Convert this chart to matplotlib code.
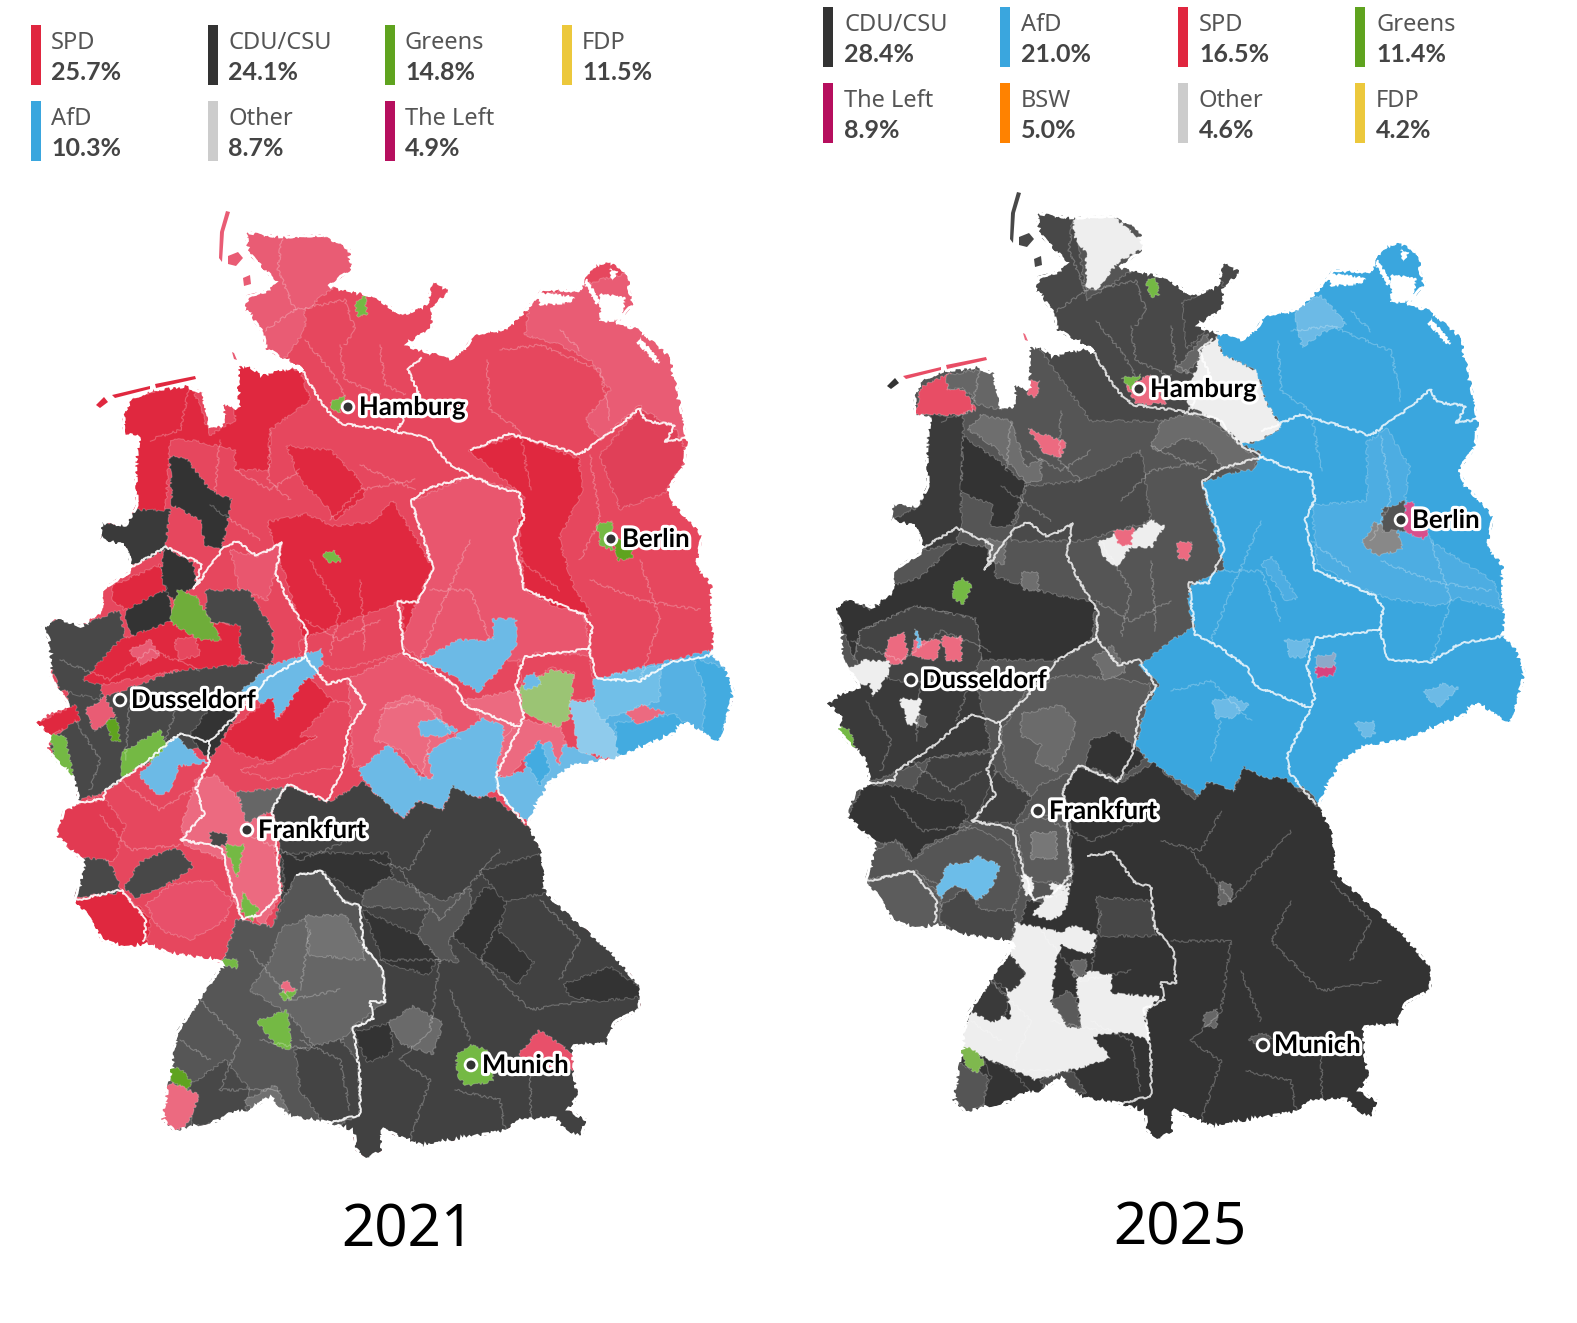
import numpy as np
import matplotlib
matplotlib.use('Agg')
import matplotlib.pyplot as plt
import matplotlib.patheffects as pe
from matplotlib.patches import Polygon, Rectangle

plt.rcParams['font.family'] = ['Noto Sans', 'DejaVu Sans']

# legend values
parties_2021 = ['SPD', 'CDU/CSU', 'Greens', 'FDP', 'AfD', 'Other', 'The Left']
shares_2021 = ['25.7%', '24.1%', '14.8%', '11.5%', '10.3%', '8.7%', '4.9%']
parties_2025 = ['CDU/CSU', 'AfD', 'SPD', 'Greens', 'The Left', 'BSW', 'Other', 'FDP']
shares_2025 = ['28.4%', '21.0%', '16.5%', '11.4%', '8.9%', '5.0%', '4.6%', '4.2%']
party_colors = {'SPD': '#e0263f', 'CDU/CSU': '#333333', 'Greens': '#5fa31f', 'FDP': '#ecc83c',
                'AfD': '#3aa6de', 'Other': '#cccccc', 'The Left': '#b60f5e', 'BSW': '#ff8200'}

# cities: name, dot in the 2021 picture, dot in the 2025 picture
cities = ['Hamburg', 'Berlin', 'Dusseldorf', 'Frankfurt', 'Munich']
dots_2021 = [(348, 407), (611, 539), (120, 700), (247, 830), (471, 1065)]
dots_2025 = [(1139, 389), (1401, 520), (911, 680), (1038, 811), (1263, 1045)]

# map shapes (pixels of the 2021 map)
germany = [(245, 231), (282, 236), (322, 234), (350, 248), (353, 269), (330, 286), (353, 290), (373, 295), (403, 314),
           (426, 303), (428, 295), (433, 280), (450, 290), (443, 299), (433, 307), (433, 328), (408, 345), (421, 349),
           (453, 358), (466, 345), (474, 333), (504, 328), (524, 311), (542, 288), (579, 290), (587, 274), (597, 263),
           (612, 261), (630, 274), (630, 290), (635, 303), (617, 324), (640, 328), (673, 358), (673, 368), (678, 387),
           (688, 442), (685, 467), (668, 490), (680, 509), (703, 535), (698, 564), (713, 585), (713, 619), (715, 644),
           (713, 653), (725, 666), (735, 692), (720, 745), (703, 734), (685, 723), (675, 734), (615, 760), (574, 766),
           (549, 784), (529, 823), (542, 853), (547, 893), (579, 923), (610, 949), (625, 967), (642, 988), (640, 1010),
           (615, 1023), (607, 1045), (574, 1047), (574, 1070), (579, 1097), (569, 1110), (587, 1119), (582, 1139),
           (564, 1130), (554, 1119), (519, 1121), (504, 1132), (453, 1141), (423, 1147), (398, 1137), (383, 1130),
           (383, 1150), (368, 1160), (355, 1150), (353, 1132), (327, 1123), (287, 1117), (270, 1098), (247, 1113),
           (229, 1113), (222, 1121), (191, 1128), (174, 1132), (161, 1119), (169, 1076), (176, 1032), (202, 993),
           (222, 964), (212, 960), (171, 955), (146, 945), (126, 949), (101, 941), (91, 919), (73, 901), (81, 875),
           (83, 862), (55, 836), (63, 810), (78, 801), (73, 779), (60, 766), (45, 749), (50, 736), (35, 723), (48, 712),
           (68, 705), (50, 679), (48, 640), (41, 627), (58, 617), (81, 625), (101, 610), (101, 589), (113, 581), (131, 570),
           (126, 547), (98, 539), (101, 522), (126, 524), (136, 505), (134, 463), (139, 438), (122, 434), (123, 413),
           (131, 398), (151, 389), (186, 385), (204, 392), (209, 425), (222, 425), (222, 400), (237, 408), (237, 366),
           (247, 364), (262, 373), (295, 366), (302, 370), (265, 349), (262, 333), (244, 309), (247, 295), (267, 290),
           (275, 282), (247, 253)]
islands = [[(226, 211), (230, 212), (224, 232), (222, 262), (219, 258), (220, 232)],
           [(228, 256), (238, 252), (243, 258), (236, 266), (228, 264)],
           [(243, 278), (250, 275), (251, 284), (244, 286)], [(96, 405), (104, 397), (108, 402), (100, 408)],
           [(112, 395), (150, 386), (150, 389), (115, 398)], [(155, 384), (195, 376), (196, 379), (156, 388)],
           [(232, 352), (234, 353), (237, 360), (234, 359)]]
# bays and lagoons that cut into the Baltic coast and the Wadden Sea
coast_gaps = [[(600, 293), (625, 298), (622, 320), (600, 322)], [(587, 278), (600, 303), (597, 305), (585, 285)],
              [(535, 292), (575, 297), (570, 303), (540, 305)], [(640, 337), (660, 362), (655, 363), (637, 342)],
              [(610, 268), (618, 272), (612, 280)], [(209, 408), (222, 408), (222, 425), (209, 425)]]

state_borders = [
    [(302, 370), (322, 404), (333, 417), (343, 424), (383, 429), (428, 438), (448, 463), (471, 476), (504, 490), (519, 492),
     (524, 518), (514, 539), (524, 589), (584, 615), (592, 627), (589, 649)],
    [(421, 358), (408, 370), (418, 392), (398, 429)],
    [(471, 450), (509, 434), (554, 446), (579, 455), (615, 429), (640, 408), (645, 421), (675, 425), (665, 442), (688, 438)],
    [(471, 476), (428, 488), (411, 501), (433, 568), (418, 602), (398, 602), (403, 644), (403, 653), (428, 666), (456, 686),
     (464, 705), (519, 727), (524, 716), (516, 684), (524, 657), (589, 649), (597, 679), (640, 681), (670, 662), (713, 655)],
    [(519, 729), (496, 775), (499, 792), (524, 823)],
    [(126, 570), (166, 547), (202, 564), (194, 589), (224, 547), (237, 541), (257, 556), (282, 543), (275, 573), (287, 598),
     (307, 631), (305, 657), (327, 684), (348, 679), (365, 705), (348, 731), (343, 768), (327, 801)],
    [(76, 803), (103, 799), (106, 790), (141, 766), (179, 734), (209, 742), (237, 714), (267, 679), (305, 657)],
    [(209, 742), (209, 762), (196, 788), (204, 814), (181, 840), (209, 845), (222, 849), (232, 888), (242, 919)],
    [(277, 849), (280, 893), (262, 914), (242, 919)],
    [(277, 849), (272, 810), (287, 784), (327, 801)],
    [(73, 901), (121, 890), (146, 919), (144, 941)],
    [(297, 875), (322, 871), (343, 901), (360, 906), (363, 945), (383, 971), (385, 1002), (370, 1002), (373, 1019), (353, 1028),
     (360, 1076), (360, 1115), (327, 1123)],
]
district_lines = [
    [(282, 236), (278, 270), (295, 310), (265, 330)], [(295, 310), (345, 300), (355, 330), (345, 345)], [(340, 345), (345, 380), (380, 395)],
    [(305, 340), (330, 370), (345, 395)], [(380, 345), (385, 385), (405, 395)], [(190, 385), (180, 430), (150, 440)], [(220, 440), (215, 490)],
    [(270, 430), (268, 480), (290, 500)], [(235, 470), (270, 490), (300, 470)], [(330, 520), (360, 490), (415, 480)], [(360, 465), (415, 490)],
    [(487, 360), (490, 410), (520, 430), (530, 490)], [(500, 350), (540, 345), (600, 370), (610, 420)], [(560, 330), (580, 350)],
    [(590, 455), (600, 520), (580, 560)], [(640, 560), (660, 620), (640, 680)], [(590, 580), (640, 600), (700, 610)], [(520, 560), (560, 590)],
    [(430, 590), (470, 590), (490, 640)], [(470, 540), (440, 610), (420, 660)], [(310, 560), (340, 610), (330, 655)], [(360, 580), (365, 650)],
    [(380, 620), (340, 640), (305, 620)], [(210, 505), (260, 540)], [(380, 710), (420, 700), (460, 740)], [(420, 780), (430, 740)],
    [(100, 815), (130, 850), (180, 845)], [(120, 780), (160, 810), (190, 790)], [(60, 660), (110, 680), (150, 650), (200, 670)], [(75, 720), (100, 760), (90, 790)],
    [(130, 700), (125, 760)], [(180, 700), (165, 740)], [(240, 830), (300, 860), (350, 840)], [(370, 860), (410, 870), (430, 830)], [(400, 870), (440, 920), (500, 850)],
    [(380, 960), (440, 960), (430, 1030), (400, 1060)], [(500, 920), (480, 960), (530, 1010), (590, 1000)], [(540, 900), (580, 940), (560, 980)], [(450, 990), (470, 1040)],
    [(400, 1060), (430, 1080), (410, 1140)], [(455, 1090), (500, 1100), (505, 1130)], [(530, 1070), (530, 1120)], [(250, 950), (290, 1000), (340, 990)],
    [(200, 1000), (240, 1040), (220, 1090), (280, 1090)], [(180, 1040), (210, 1060)], [(300, 1040), (340, 1060), (350, 1110)], [(310, 930), (300, 990)], [(260, 1040), (310, 1050)],
]

# fill layers, drawn in order and clipped to the country
layers_2021 = [
    ('#e6475e', germany),
    ('#e95c74', [(240, 225), (350, 240), (360, 275), (330, 290), (305, 310), (305, 330), (280, 365), (240, 340), (240, 290)]),
    ('#e95c74', [(530, 300), (580, 285), (640, 270), (650, 330), (680, 370), (690, 440), (660, 430), (640, 405), (600, 440), (585, 420), (610, 390), (590, 360), (560, 345), (525, 335)]),
    ('#e9566e', [(411, 501), (471, 476), (519, 492), (524, 518), (514, 539), (524, 589), (584, 615), (592, 660), (420, 660), (398, 640), (398, 602), (418, 602), (433, 568)]),
    ('#e04058', [(600, 455), (640, 408), (675, 429), (688, 455), (665, 493), (620, 509)]),
    ('#e0283f', [(120, 440), (125, 400), (190, 380), (210, 435), (235, 420), (236, 366), (300, 370), (310, 400), (270, 430), (270, 470), (235, 470), (235, 450), (190, 440), (170, 440), (165, 520), (125, 530), (130, 450)]),
    ('#e0283f', [(287, 446), (330, 450), (360, 480), (365, 495), (335, 520), (330, 510), (300, 480)]),
    ('#e0283f', [(393, 501), (433, 568), (418, 598), (398, 648), (307, 648), (287, 581), (267, 522), (307, 514), (333, 526), (373, 522)]),
    ('#e0283f', [(469, 450), (519, 436), (579, 459), (582, 492), (559, 539), (574, 589), (592, 615), (554, 606), (524, 589), (519, 522), (524, 497)]),
    ('#e9566e', [(230, 550), (257, 556), (282, 543), (275, 573), (267, 600), (240, 590)]),
    ('#e6475e', [(340, 670), (403, 653), (403, 600), (300, 640), (300, 660)]),
    ('#484848', [(65, 670), (105, 697), (190, 666), (267, 662), (237, 714), (197, 749), (141, 766), (106, 792), (75, 801), (60, 766), (50, 745), (70, 720)]),
    ('#484848', [(41, 627), (58, 617), (81, 625), (120, 610), (125, 640), (105, 670), (100, 700), (60, 690), (48, 660)]),
    ('#484848', [(206, 590), (248, 590), (273, 630), (272, 665), (245, 660), (230, 625), (206, 620)]),
    ('#333333', [(170, 457), (185, 457), (210, 490), (232, 500), (222, 548), (205, 545), (200, 520), (172, 505)]),
    ('#3a3a3a', [(100, 522), (125, 524), (135, 510), (170, 510), (165, 550), (125, 568), (101, 540)]),
    ('#333333', [(166, 547), (193, 563), (196, 585), (175, 600), (156, 590)]),
    ('#333333', [(126, 602), (165, 585), (175, 620), (135, 640), (126, 620)]),
    ('#e0283f', [(113, 585), (160, 565), (165, 590), (125, 610), (113, 600)]),
    ('#e0283f', [(83, 680), (120, 640), (175, 620), (240, 625), (240, 665), (180, 670), (100, 685)]),
    ('#e95c74', [(130, 650), (150, 640), (160, 655), (140, 665)]),
    ('#e6475e', [(175, 640), (195, 635), (200, 655), (178, 660)]),
    ('#e0283f', [(35, 723), (75, 705), (80, 720), (50, 736)]),
    ('#e95c74', [(85, 710), (105, 697), (115, 715), (95, 732)]),
    ('#6fad3a', [(178, 590), (195, 595), (222, 640), (200, 640), (170, 622)]),
    ('#333333', [(190, 735), (215, 700), (237, 714), (222, 740), (209, 760)]),
    ('#74b944', [(122, 752), (160, 730), (170, 755), (140, 765), (135, 778), (122, 778)]),
    ('#74b944', [(50, 735), (65, 735), (73, 775), (75, 790), (60, 785)]),
    ('#5fa31f', [(106, 722), (117, 717), (120, 742), (112, 740)]),
    ('#e6475e', [(105, 792), (140, 766), (175, 760), (209, 762), (196, 788), (204, 814), (181, 840), (209, 845), (222, 849), (232, 888), (242, 919), (222, 964), (170, 955), (146, 945), (144, 919), (121, 890), (80, 875), (55, 836), (63, 810)]),
    ('#e23a52', [(63, 805), (105, 800), (125, 825), (115, 860), (83, 862), (55, 836)]),
    ('#e0283f', [(73, 901), (121, 890), (151, 919), (146, 945), (126, 949), (101, 941)]),
    ('#484848', [(73, 897), (83, 858), (108, 860), (120, 884), (118, 893)]),
    ('#484848', [(124, 888), (140, 862), (176, 847), (194, 866), (172, 882), (135, 898)]),
    ('#e8506a', [(146, 905), (170, 885), (210, 880), (232, 900), (225, 920), (190, 940), (160, 930)]),
    ('#ec6a80', [(196, 779), (215, 775), (240, 800), (265, 810), (275, 850), (280, 895), (265, 925), (235, 905), (225, 860), (185, 845), (182, 825)]),
    ('#6cbae6', [(139, 775), (176, 736), (199, 758), (209, 762), (179, 766), (169, 792), (156, 795)]),
    ('#6cbae6', [(242, 690), (270, 666), (322, 649), (322, 664), (302, 694), (275, 720), (257, 697)]),
    ('#e0283f', [(232, 727), (272, 697), (277, 721), (307, 677), (333, 701), (317, 736), (272, 762), (237, 753), (222, 740)]),
    ('#e6475e', [(300, 736), (333, 701), (365, 705), (345, 765), (270, 780), (240, 770), (272, 762), (317, 736)]),
    ('#e9566e', [(348, 679), (403, 653), (418, 666), (453, 684), (464, 701), (519, 697), (524, 727), (496, 779), (353, 766)]),
    ('#ec6a80', [(385, 705), (410, 695), (440, 710), (450, 740), (430, 780), (400, 750), (375, 740)]),
    ('#ec6a80', [(465, 700), (520, 690), (524, 727), (500, 775), (495, 735)]),
    ('#6cbae6', [(420, 661), (458, 640), (493, 640), (493, 619), (516, 619), (516, 645), (503, 666), (478, 692), (443, 670)]),
    ('#6cbae6', [(358, 771), (388, 745), (418, 775), (433, 779), (428, 753), (484, 718), (504, 727), (499, 788), (484, 797), (448, 797), (443, 810), (418, 801), (403, 819), (378, 797)]),
    ('#6cbae6', [(418, 723), (435, 718), (458, 730), (440, 737), (420, 735)]),
    ('#ec6a80', [(525, 720), (560, 727), (566, 745), (555, 780), (545, 745), (530, 750), (510, 778), (495, 775), (505, 735)]),
    ('#6cbae6', [(496, 779), (524, 771), (529, 753), (549, 740), (559, 766), (564, 744), (584, 753), (620, 766), (610, 775), (564, 792), (549, 788), (529, 823), (504, 801)]),
    ('#43abe0', [(524, 760), (540, 740), (550, 770), (540, 785)]),
    ('#e6475e', [(519, 662), (534, 653), (589, 655), (597, 699), (569, 699), (574, 673), (552, 668), (521, 684)]),
    ('#9bc474', [(519, 688), (552, 670), (574, 675), (569, 718), (557, 727), (524, 712)]),
    ('#6cbae6', [(524, 678), (535, 672), (541, 685), (525, 690)]),
    ('#56b1e3', [(594, 679), (713, 650), (745, 690), (725, 755), (615, 768), (600, 720)]),
    ('#8fcbec', [(569, 701), (594, 701), (600, 714), (630, 755), (615, 760), (579, 751)]),
    ('#71bfe8', [(594, 679), (660, 665), (660, 700), (600, 720), (594, 705)]),
    ('#43abe0', [(693, 657), (730, 670), (735, 692), (718, 747), (703, 734), (705, 692)]),
    ('#43abe0', [(615, 723), (675, 714), (685, 723), (675, 734), (630, 757), (617, 753)]),
    ('#ec6a80', [(625, 714), (640, 705), (665, 712), (640, 725)]),
    ('#74b944', [(224, 845), (244, 845), (237, 877)]),
    ('#74b944', [(242, 892), (259, 910), (252, 921), (242, 912)]),
    ('#484848', [(209, 832), (226, 832), (226, 845), (212, 845)]),
    ('#666666', [(237, 792), (282, 788), (282, 805), (247, 823)]),
    ('#414141', [(222, 964), (237, 919), (272, 927), (282, 897), (280, 849), (272, 810), (287, 784), (327, 803), (363, 782), (403, 819), (418, 801), (443, 810), (453, 786), (474, 797), (494, 797), (524, 823), (600, 900), (660, 1000), (600, 1170), (150, 1170), (140, 1050), (180, 1000)]),
    ('#333333', [(282, 853), (388, 853), (393, 875), (363, 897), (322, 871), (297, 875), (285, 897)]),
    ('#555555', [(363, 893), (388, 877), (443, 901), (471, 888), (469, 919), (448, 941), (458, 962), (438, 960), (418, 936), (428, 910), (363, 906)]),
    ('#333333', [(363, 910), (418, 936), (438, 958), (428, 975), (383, 962)]),
    ('#333333', [(453, 936), (484, 888), (509, 888), (499, 932), (534, 962), (519, 984), (479, 958)]),
    ('#3a3a3a', [(479, 871), (544, 853), (547, 893), (504, 901)]),
    ('#333333', [(564, 984), (610, 967), (642, 988), (640, 997), (600, 1001), (569, 997)]),
    ('#333333', [(353, 1032), (390, 1023), (393, 1052), (368, 1063)]),
    ('#6a6a6a', [(388, 1023), (413, 1006), (443, 1023), (433, 1054), (403, 1045)]),
    ('#74b944', [(456, 1056), (469, 1045), (486, 1049), (494, 1081), (466, 1086), (458, 1076)]),
    ('#e8506a', [(519, 1054), (539, 1030), (574, 1054), (574, 1070), (530, 1070)]),
    ('#565656', [(222, 964), (237, 919), (272, 927), (285, 897), (297, 875), (322, 871), (343, 901), (360, 906), (363, 945), (383, 971), (385, 1002), (370, 1002), (373, 1019), (353, 1028), (360, 1076), (360, 1115), (327, 1130), (150, 1150), (140, 1050), (180, 1000)]),
    ('#666666', [(282, 927), (307, 919), (343, 919), (363, 945), (383, 971), (385, 1002), (352, 1028), (325, 1060), (290, 1015), (250, 990), (270, 960)]),
    ('#727272', [(305, 916), (345, 915), (362, 945), (365, 960), (310, 955)]),
    ('#444444', [(295, 1050), (340, 1040), (358, 1060), (360, 1115), (325, 1125), (300, 1090)]),
    ('#484848', [(190, 1085), (225, 1060), (250, 1090), (245, 1113), (191, 1128)]),
    ('#707070', [(245, 1100), (275, 1085), (290, 1115), (255, 1115)]),
    ('#74b944', [(257, 1021), (287, 1010), (292, 1049), (277, 1047)]),
    ('#74b944', [(280, 993), (297, 988), (292, 999), (283, 1000)]),
    ('#ec6a80', [(281, 985), (288, 980), (295, 990), (285, 993)]),
    ('#74b944', [(222, 960), (237, 958), (237, 969), (222, 964)]),
    ('#5fa31f', [(166, 1069), (179, 1067), (192, 1082), (186, 1091), (171, 1080)]),
    ('#ec6a80', [(164, 1089), (172, 1082), (199, 1095), (189, 1123), (174, 1132), (161, 1119)]),
    ('#74b944', [(323, 554), (335, 550), (341, 562), (328, 562)]),
    ('#74b944', [(355, 305), (365, 293), (367, 314), (358, 316)]),
    ('#74b944', [(330, 403), (345, 394), (340, 412), (333, 410)]),
    ('#74b944', [(597, 525), (612, 520), (612, 550), (600, 545)]),
    ('#5fa31f', [(612, 538), (632, 540), (632, 558), (618, 560)]),
]
layers_2025 = [
    ('#555555', germany),
    ('#484848', [(240, 225), (283, 225), (295, 320), (355, 280), (450, 280), (440, 340), (400, 440), (300, 440), (235, 350)]),
    ('#eeeeee', [(283, 236), (320, 234), (353, 261), (353, 267), (328, 280), (305, 309), (295, 305), (295, 272), (283, 255)]),
    ('#444444', [(391, 322), (431, 301), (436, 322), (411, 352), (396, 368)]),
    ('#666666', [(383, 389), (416, 352), (418, 368), (396, 392)]),
    ('#eeeeee', [(411, 368), (426, 356), (431, 373), (466, 390), (476, 423), (491, 446), (466, 461), (451, 463), (426, 440), (401, 427), (396, 419)]),
    ('#3aa6de', [(425, 348), (431, 373), (466, 390), (476, 423), (491, 446), (466, 461), (451, 463), (471, 472), (463, 486), (411, 501), (433, 587), (401, 604), (396, 621), (403, 646), (381, 659), (348, 685), (368, 703), (353, 729), (345, 764), (358, 781), (401, 807), (411, 818), (416, 801), (441, 811), (453, 787), (473, 798), (514, 807), (529, 824), (800, 900), (800, 250), (500, 250), (470, 330)]),
    ('#6cbae6', [(503, 328), (529, 314), (556, 343), (531, 352), (511, 366)]),
    ('#4dade2', [(521, 524), (576, 520), (576, 461), (596, 448), (619, 486), (614, 516), (642, 562), (702, 600), (712, 629), (667, 617), (647, 625), (596, 617), (561, 604), (526, 583)]),
    ('#888888', [(571, 562), (584, 541), (606, 550), (612, 568), (586, 575)]),
    ('#555555', [(591, 528), (614, 520), (617, 550), (591, 550)]),
    ('#d94f8c', [(614, 524), (622, 520), (637, 550), (634, 558), (614, 552)]),
    ('#6cbae6', [(494, 659), (519, 659), (514, 676), (499, 676)]),
    ('#6cbae6', [(421, 720), (441, 716), (458, 724), (441, 737), (426, 737)]),
    ('#4dade2', [(471, 583), (481, 575), (506, 617), (496, 621)]),
    ('#6cbae6', [(632, 711), (652, 703), (667, 707), (647, 727)]),
    ('#8ca9c9', [(524, 676), (544, 672), (544, 687), (526, 694)]),
    ('#d8437e', [(524, 687), (544, 685), (544, 694), (526, 696)]),
    ('#6cbae6', [(564, 742), (582, 740), (584, 753), (574, 757)]),
    ('#e84d65', [(124, 434), (130, 406), (160, 392), (155, 408), (172, 408), (185, 429), (165, 434)]),
    ('#666666', [(155, 394), (200, 387), (210, 402), (210, 429), (187, 423), (172, 406), (157, 408)]),
    ('#3a3a3a', [(140, 434), (172, 434), (172, 455), (170, 512), (170, 545), (165, 562), (127, 571), (99, 541), (130, 524)]),
    ('#333333', [(172, 455), (205, 478), (235, 503), (220, 545), (200, 545), (202, 524), (170, 512)]),
    ('#6e6e6e', [(177, 448), (190, 434), (220, 440), (235, 486), (250, 478), (250, 499), (235, 501), (202, 465)]),
    ('#4a4a4a', [(235, 505), (290, 500), (350, 470), (360, 540), (290, 560), (220, 560)]),
    ('#6b6b6b', [(360, 465), (371, 440), (401, 432), (426, 444), (466, 478), (461, 490), (431, 486), (416, 465), (396, 457), (366, 470)]),
    ('#ec6a80', [(237, 448), (275, 461), (270, 476), (255, 474)]),
    ('#ec6a80', [(237, 400), (249, 400), (245, 417), (237, 413)]),
    ('#ec6a80', [(335, 404), (360, 394), (375, 423), (345, 423)]),
    ('#74b944', [(331, 397), (350, 394), (340, 408)]),
    ('#74b944', [(355, 301), (365, 295), (368, 314), (360, 316)]),
    ('#eeeeee', [(306, 562), (326, 552), (345, 550), (361, 539), (373, 545), (361, 566), (340, 566), (326, 585), (315, 579)]),
    ('#ec6a80', [(323, 550), (343, 547), (340, 564), (328, 564)]),
    ('#ec6a80', [(386, 562), (401, 560), (398, 579), (388, 577)]),
    ('#333333', [(43, 625), (59, 617), (79, 629), (104, 604), (130, 596), (165, 562), (200, 566), (205, 596), (260, 613), (305, 621), (300, 659), (270, 679), (190, 679), (185, 638), (125, 625), (69, 650), (64, 679)]),
    ('#444444', [(69, 650), (125, 625), (185, 638), (190, 679), (180, 700), (100, 705), (64, 679)]),
    ('#6e6e6e', [(195, 558), (215, 560), (213, 583), (197, 580)]),
    ('#6e6e6e', [(230, 592), (246, 590), (248, 610), (232, 608)]),
    ('#3a3a3a', [(35, 723), (60, 690), (110, 700), (185, 700), (200, 768), (140, 777), (74, 803), (50, 750)]),
    ('#3f3f3f', [(140, 777), (200, 772), (207, 807), (180, 842), (120, 811)]),
    ('#333333', [(74, 803), (107, 805), (125, 811), (140, 818), (170, 820), (177, 835), (165, 851), (135, 864), (122, 881), (112, 862), (87, 862), (64, 855), (57, 833)]),
    ('#74b944', [(162, 604), (172, 596), (181, 606), (172, 623), (162, 617)]),
    ('#ec6a80', [(97, 659), (112, 650), (117, 672), (110, 683), (97, 683), (94, 679)]),
    ('#ec6a80', [(122, 659), (150, 659), (145, 679), (122, 676)]),
    ('#ec6a80', [(150, 655), (170, 655), (170, 679), (155, 679)]),
    ('#6cbae6', [(124, 648), (132, 661), (127, 667)]),
    ('#eeeeee', [(54, 689), (74, 679), (99, 681), (97, 694), (82, 716), (79, 703), (54, 703)]),
    ('#eeeeee', [(109, 718), (130, 718), (127, 742), (117, 744)]),
    ('#666666', [(125, 734), (135, 734), (135, 745), (125, 745)]),
    ('#74b944', [(47, 746), (59, 748), (64, 768), (54, 761)]),
    ('#5c5c5c', [(210, 750), (235, 711), (270, 694), (325, 698), (360, 703), (345, 764), (330, 798), (285, 790), (250, 803), (240, 816), (215, 790)]),
    ('#6b6b6b', [(230, 733), (270, 724), (285, 742), (280, 764), (265, 790), (245, 781), (250, 764), (230, 755)]),
    ('#333333', [(300, 759), (325, 750), (345, 768), (355, 777), (330, 798), (295, 785)]),
    ('#6e6e6e', [(302, 676), (321, 665), (335, 690), (315, 700)]),
    ('#3f3f3f', [(205, 790), (240, 816), (225, 842), (185, 842)]),
    ('#5c5c5c', [(240, 833), (275, 833), (280, 903), (235, 899), (225, 846)]),
    ('#777777', [(240, 851), (265, 851), (265, 877), (240, 877)]),
    ('#555555', [(77, 872), (105, 859), (120, 881), (140, 864), (180, 846), (220, 864), (230, 907), (220, 933), (150, 925), (145, 903), (125, 890), (75, 899)]),
    ('#5c5c5c', [(75, 899), (125, 890), (150, 916), (150, 946), (127, 949), (102, 942), (85, 916)]),
    ('#484848', [(150, 925), (175, 907), (190, 929), (225, 929), (220, 964), (170, 955), (150, 942)]),
    ('#6cbde9', [(145, 909), (157, 883), (175, 883), (187, 875), (210, 885), (200, 907), (187, 920), (175, 907), (160, 905), (150, 918)]),
    ('#333333', [(222, 964), (237, 919), (272, 927), (282, 897), (280, 849), (272, 810), (287, 784), (327, 803), (363, 782), (403, 819), (418, 801), (443, 810), (453, 786), (474, 797), (494, 797), (524, 823), (600, 900), (670, 1000), (600, 1170), (150, 1170), (140, 1050), (180, 1000)]),
    ('#474747', [(305, 916), (360, 920), (365, 955), (310, 955)]),
    ('#eeeeee', [(220, 964), (225, 942), (270, 951), (285, 944), (305, 955), (300, 973), (270, 964), (265, 981), (260, 1021), (280, 1047), (290, 1047), (285, 999), (300, 990), (320, 994), (320, 1012), (368, 1016), (353, 1034), (360, 1060), (335, 1051), (300, 1055), (320, 1077), (285, 1088), (245, 1099), (190, 1075), (167, 1064), (180, 1029), (220, 1038), (215, 999), (197, 994), (235, 994), (215, 968)]),
    ('#3a3a3a', [(197, 994), (215, 968), (235, 994), (220, 1012)]),
    ('#3a3a3a', [(182, 1012), (197, 997), (217, 1016), (215, 1034), (200, 1042), (182, 1031)]),
    ('#5a5a5a', [(260, 1021), (275, 1010), (285, 1016), (290, 1047), (278, 1047)]),
    ('#333333', [(190, 1075), (220, 1088), (240, 1112), (230, 1125), (190, 1130), (200, 1095)]),
    ('#555555', [(167, 1082), (197, 1095), (192, 1125), (175, 1132), (162, 1116)]),
    ('#7fb84e', [(167, 1066), (180, 1066), (194, 1081), (185, 1092), (175, 1084)]),
    ('#4a4a4a', [(250, 1099), (280, 1088), (295, 1112), (255, 1114)]),
    ('#eeeeee', [(242, 933), (255, 916), (278, 907), (275, 929), (260, 940)]),
    ('#eeeeee', [(230, 894), (242, 896), (242, 914), (235, 914)]),
    ('#eeeeee', [(258, 903), (280, 903), (265, 916)]),
    ('#666666', [(280, 981), (295, 977), (295, 994), (283, 996)]),
    ('#666666', [(428, 901), (441, 903), (441, 920), (428, 925)]),
    ('#666666', [(413, 1034), (426, 1027), (426, 1047), (413, 1044)]),
    ('#555555', [(458, 1058), (471, 1051), (481, 1058), (468, 1064)]),
]
island_colors_2021 = ['#e95c74', '#e95c74', '#e95c74', '#e0283f', '#e0283f', '#e0283f', '#e95c74']
island_colors_2025 = ['#484848', '#484848', '#484848', '#333333', '#e84d65', '#e84d65', '#ec6a80']


def shift(points, dx, dy):
    return np.array(points, dtype=float) + [dx, dy]


def draw_map(ax, layers, island_colors, border_alpha, dx, dy):
    # one clip path for the mainland
    clip = Polygon(shift(germany, dx, dy), closed=True, transform=ax.transData)
    for color, pts in layers:
        p = Polygon(shift(pts, dx, dy), closed=True, facecolor=color, edgecolor=(1, 1, 1, 0.22), lw=0.7, zorder=2)
        p.set_sketch_params(scale=1.3, length=12, randomness=30)
        ax.add_patch(p)
        p.set_clip_path(clip)
    for line in district_lines:
        pts = shift(line, dx, dy)
        l, = ax.plot(pts[:, 0], pts[:, 1], color='white', alpha=0.25, lw=0.8, zorder=3)
        l.set_sketch_params(scale=1.3, length=12, randomness=30)
        l.set_clip_path(clip)
    for line in state_borders:
        pts = shift(line, dx, dy)
        l, = ax.plot(pts[:, 0], pts[:, 1], color='white', alpha=border_alpha, lw=1.4, zorder=4, solid_joinstyle='round')
        l.set_sketch_params(scale=1.0, length=12, randomness=30)
        l.set_clip_path(clip)
    # rough coast: white edge over the fills
    coast = Polygon(shift(germany, dx, dy), closed=True, facecolor='none', edgecolor='white', lw=2.0, zorder=5)
    coast.set_sketch_params(scale=1.6, length=10, randomness=30)
    ax.add_patch(coast)
    for pts in coast_gaps:
        gap = Polygon(shift(pts, dx, dy), closed=True, facecolor='white', edgecolor='none', zorder=5)
        gap.set_sketch_params(scale=1.2, length=8, randomness=30)
        ax.add_patch(gap)
    for pts, color in zip(islands, island_colors):
        ax.add_patch(Polygon(shift(pts, dx, dy), closed=True, facecolor=color, edgecolor='none', zorder=6))


def draw_legend(ax, parties, shares, xs, ys, text_dx):
    n_col = len(xs)
    for i, (name, share) in enumerate(zip(parties, shares)):
        x = xs[i % n_col]
        y = ys[i // n_col]
        ax.add_patch(Rectangle((x, y), 10, 60, facecolor=party_colors[name], edgecolor='none'))
        ax.text(x + text_dx, y + 18, name, fontsize=17, color='#555555', va='center', ha='left')
        ax.text(x + text_dx, y + 48, share, fontsize=18, color='#444444', family='Lato', fontweight='bold', va='center', ha='left')


def draw_cities(ax, dots):
    for name, (x, y) in zip(cities, dots):
        ax.text(x + 11, y, name, fontsize=18.5, family='Lato', fontweight='bold', color='black', va='center', ha='left', zorder=8,
                path_effects=[pe.withStroke(linewidth=4.5, foreground='white')])
        ax.scatter([x], [y], s=110, color='white', edgecolor='none', zorder=9)
        ax.scatter([x], [y], s=42, color='#333333', edgecolor='none', zorder=10)


fig = plt.figure(figsize=(15.77, 13.23), dpi=100)
ax = fig.add_axes([0, 0, 1, 1])
ax.set_xlim(0, 1577)
ax.set_ylim(1323, 0)
ax.axis('off')

draw_map(ax, layers_2021, island_colors_2021, 0.9, 0, 0)
draw_map(ax, layers_2025, island_colors_2025, 0.8, 791, -19)

draw_legend(ax, parties_2021, shares_2021, [31, 208, 385, 562], [25, 101], 20)
draw_legend(ax, parties_2025, shares_2025, [823, 1000, 1178, 1355], [7, 83], 21)

draw_cities(ax, dots_2021)
draw_cities(ax, dots_2025)

ax.text(408, 1231, '2021', fontsize=42, color='black', ha='center', va='center')
ax.text(1180, 1229, '2025', fontsize=42, color='black', ha='center', va='center')

fig.savefig('out.png', dpi=100)
